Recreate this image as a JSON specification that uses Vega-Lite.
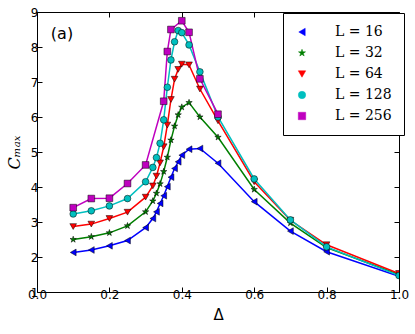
{
  "$schema": "https://vega.github.io/schema/vega-lite/v6.json",
  "autosize": "none",
  "width": 362,
  "height": 280,
  "padding": {"left": 37, "top": 12, "right": 16, "bottom": 42},
  "background": "white",
  "config": {
    "view": {"stroke": "black", "strokeWidth": 1},
    "axis": {"labelFont": "DejaVu Sans", "labelFontSize": 12, "labelColor": "black", "titleColor": "black", "domainColor": "black", "tickColor": "black", "grid": false},
    "legend": {"title": null, "orient": "none", "legendX": 246, "legendY": 1, "padding": 12, "strokeColor": "black", "fillColor": "white", "labelFont": "DejaVu Serif", "labelFontSize": 14, "labelColor": "black", "labelOffset": 26, "rowPadding": 7, "symbolSize": 55, "symbolStrokeColor": "black", "symbolStrokeWidth": 0.5}
  },
  "data": {"values": [
    {"L":16,"d":0.1,"c":2.13},{"L":16,"d":0.15,"c":2.2},{"L":16,"d":0.2,"c":2.32},{"L":16,"d":0.25,"c":2.47},{"L":16,"d":0.3,"c":2.84},{"L":16,"d":0.32,"c":3.1},{"L":16,"d":0.33,"c":3.29},{"L":16,"d":0.34,"c":3.53},{"L":16,"d":0.35,"c":3.75},{"L":16,"d":0.36,"c":4.01},{"L":16,"d":0.37,"c":4.28},{"L":16,"d":0.38,"c":4.53},{"L":16,"d":0.39,"c":4.72},{"L":16,"d":0.4,"c":4.91},{"L":16,"d":0.42,"c":5.08},{"L":16,"d":0.45,"c":5.1},{"L":16,"d":0.5,"c":4.68},{"L":16,"d":0.6,"c":3.58},{"L":16,"d":0.7,"c":2.74},{"L":16,"d":0.8,"c":2.15},{"L":16,"d":1.0,"c":1.45},
    {"L":32,"d":0.1,"c":2.5},{"L":32,"d":0.15,"c":2.58},{"L":32,"d":0.2,"c":2.69},{"L":32,"d":0.25,"c":2.89},{"L":32,"d":0.3,"c":3.29},{"L":32,"d":0.32,"c":3.6},{"L":32,"d":0.33,"c":3.82},{"L":32,"d":0.34,"c":4.09},{"L":32,"d":0.35,"c":4.44},{"L":32,"d":0.36,"c":4.85},{"L":32,"d":0.37,"c":5.34},{"L":32,"d":0.38,"c":5.74},{"L":32,"d":0.39,"c":6.06},{"L":32,"d":0.4,"c":6.28},{"L":32,"d":0.42,"c":6.41},{"L":32,"d":0.45,"c":6.0},{"L":32,"d":0.5,"c":5.42},{"L":32,"d":0.6,"c":3.93},{"L":32,"d":0.7,"c":2.97},{"L":32,"d":0.8,"c":2.27},{"L":32,"d":1.0,"c":1.5},
    {"L":64,"d":0.1,"c":2.87},{"L":64,"d":0.15,"c":2.94},{"L":64,"d":0.2,"c":3.1},{"L":64,"d":0.25,"c":3.28},{"L":64,"d":0.3,"c":3.71},{"L":64,"d":0.32,"c":4.03},{"L":64,"d":0.33,"c":4.31},{"L":64,"d":0.34,"c":4.69},{"L":64,"d":0.35,"c":5.15},{"L":64,"d":0.36,"c":5.77},{"L":64,"d":0.37,"c":6.5},{"L":64,"d":0.38,"c":7.08},{"L":64,"d":0.39,"c":7.36},{"L":64,"d":0.4,"c":7.51},{"L":64,"d":0.42,"c":7.49},{"L":64,"d":0.45,"c":6.8},{"L":64,"d":0.5,"c":5.89},{"L":64,"d":0.6,"c":4.15},{"L":64,"d":0.7,"c":3.05},{"L":64,"d":0.8,"c":2.35},{"L":64,"d":1.0,"c":1.53},
    {"L":128,"d":0.1,"c":3.23},{"L":128,"d":0.15,"c":3.32},{"L":128,"d":0.2,"c":3.46},{"L":128,"d":0.25,"c":3.67},{"L":128,"d":0.3,"c":4.15},{"L":128,"d":0.32,"c":4.56},{"L":128,"d":0.33,"c":4.84},{"L":128,"d":0.34,"c":5.25},{"L":128,"d":0.35,"c":5.92},{"L":128,"d":0.36,"c":6.85},{"L":128,"d":0.37,"c":7.63},{"L":128,"d":0.38,"c":8.15},{"L":128,"d":0.39,"c":8.47},{"L":128,"d":0.4,"c":8.41},{"L":128,"d":0.42,"c":8.06},{"L":128,"d":0.45,"c":7.29},{"L":128,"d":0.5,"c":6.0},{"L":128,"d":0.6,"c":4.23},{"L":128,"d":0.7,"c":3.06},{"L":128,"d":0.8,"c":2.29},{"L":128,"d":1.0,"c":1.47},
    {"L":256,"d":0.1,"c":3.41},{"L":256,"d":0.15,"c":3.67},{"L":256,"d":0.2,"c":3.68},{"L":256,"d":0.25,"c":4.1},{"L":256,"d":0.3,"c":4.63},{"L":256,"d":0.35,"c":6.45},{"L":256,"d":0.36,"c":7.87},{"L":256,"d":0.37,"c":8.5},{"L":256,"d":0.4,"c":8.75},{"L":256,"d":0.42,"c":8.42},{"L":256,"d":0.45,"c":7.09},{"L":256,"d":0.5,"c":6.08}
  ]},
  "layer": [
    {
      "mark": {"type": "line", "strokeWidth": 1.5, "clip": true},
      "encoding": {
        "x": {"field": "d", "type": "quantitative", "scale": {"domain": [0, 1], "nice": false},
              "axis": {"title": "Δ", "titleFont": "DejaVu Sans", "titleFontSize": 15, "titleFontWeight": "normal", "titlePadding": 7, "values": [0, 0.2, 0.4, 0.6, 0.8, 1.0], "format": ".1f", "tickSize": -5, "labelPadding": 2, "domain": false, "labelFlush": false}},
        "y": {"field": "c", "type": "quantitative", "scale": {"domain": [1, 9], "nice": false, "zero": false},
              "axis": {"title": "Cₘₐₓ", "titleFont": "DejaVu Serif", "titleFontStyle": "italic", "titleFontSize": 16, "titleFontWeight": "normal", "titlePadding": 8, "values": [1,2,3,4,5,6,7,8,9], "tickSize": -5, "labelPadding": 4, "domain": false, "labelFlush": false}},
        "color": {"field": "L", "type": "ordinal", "scale": {"domain": [16,32,64,128,256], "range": ["#0000ff","#007f00","#ff0000","#00bfbf","#bf00bf"]}, "legend": {"labelExpr": "'L = ' + datum.label"}},
        "detail": {"field": "L"}
      }
    },
    {
      "mark": {"type": "point", "filled": true, "opacity": 1, "size": 45, "stroke": "black", "strokeWidth": 0.5, "clip": true},
      "encoding": {
        "x": {"field": "d", "type": "quantitative", "axis": {"orient": "top", "labels": false, "title": null, "values": [0, 0.2, 0.4, 0.6, 0.8, 1.0], "tickSize": -5, "domain": false}},
        "y": {"field": "c", "type": "quantitative", "axis": {"orient": "right", "labels": false, "title": null, "values": [1,2,3,4,5,6,7,8,9], "tickSize": -5, "domain": false}},
        "color": {"field": "L", "type": "ordinal", "legend": {"labelExpr": "'L = ' + datum.label"}},
        "shape": {"field": "L", "type": "ordinal", "scale": {"domain": [16,32,64,128,256], "range": ["triangle-left", "M0,-1L0.2245,-0.309L0.951,-0.309L0.363,0.118L0.588,0.809L0,0.382L-0.588,0.809L-0.363,0.118L-0.951,-0.309L-0.2245,-0.309Z", "triangle-down", "circle", "square"]},
                  "legend": {"labelExpr": "'L = ' + datum.label"}}
      }
    },
    {
      "data": {"values": [{"d": 0.069, "c": 8.37, "t": "(a)"}]},
      "mark": {"type": "text", "font": "DejaVu Sans", "fontSize": 16, "color": "black"},
      "encoding": {
        "x": {"field": "d", "type": "quantitative", "axis": null},
        "y": {"field": "c", "type": "quantitative", "axis": null},
        "text": {"field": "t"}
      }
    }
  ],
  "resolve": {"axis": {"x": "independent", "y": "independent"}}
}
